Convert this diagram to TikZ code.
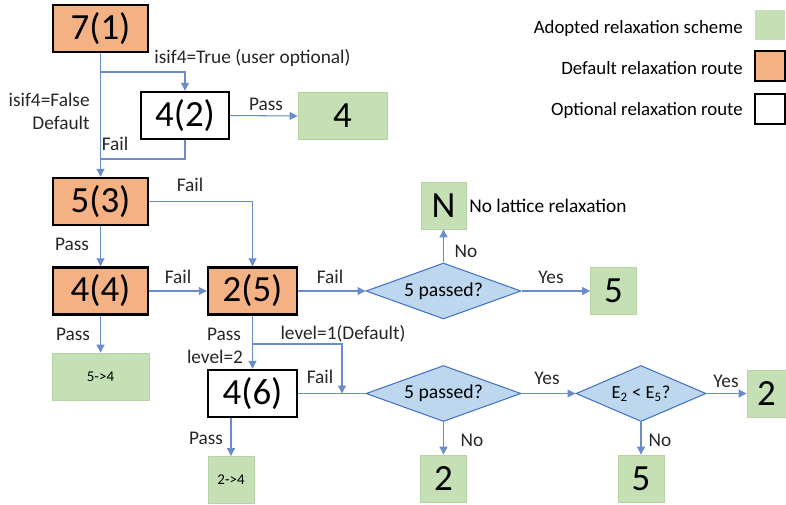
\documentclass[tikz,border=0pt]{standalone}
\usepackage{fontspec}
\setmainfont{Carlito}
\usetikzlibrary{shapes.geometric,arrows.meta,calc}
\definecolor{myorange}{RGB}{244,177,131}
\definecolor{mygreen}{RGB}{197,224,180}
\definecolor{mygreenline}{RGB}{182,212,162}
\definecolor{myblue}{RGB}{189,215,238}
\definecolor{mydarkblue}{RGB}{68,114,196}
\definecolor{myline}{RGB}{105,140,205}

\begin{document}
\begin{tikzpicture}[x=0.02cm,y=-0.02cm,
	every node/.style={font=\fontsize{11}{13}\selectfont},
	routenode/.style={draw=black,line width=1.4pt,minimum width=1.76cm,minimum height=0.94cm,inner sep=0pt,font=\fontsize{21}{24}\selectfont},
	defaultnode/.style={routenode,fill=myorange,minimum width=1.9cm},
	optionnode/.style={routenode,fill=white},
	adoptnode/.style={fill=mygreen,draw=mygreenline,line width=0.5pt,minimum width=0.92cm,minimum height=0.94cm,inner sep=0pt,font=\fontsize{21}{24}\selectfont},
	checknode/.style={diamond,aspect=2.8,draw=mydarkblue,fill=myblue,line width=0.6pt,minimum width=3.1cm,minimum height=1.12cm,inner sep=0pt,font=\fontsize{11.2}{13}\selectfont},
	legendnode/.style={minimum size=0.6cm,inner sep=0pt},
	legendtext/.style={anchor=east,inner sep=0pt,font=\fontsize{10.7}{12}\selectfont},
	edgelabel/.style={inner sep=0pt,text=black!85},
	link/.style={myline,line width=0.6pt},
	arrowlink/.style={link,-{Triangle[length=4.5pt,width=4.5pt]}},
	]
	\useasboundingbox (0,0) rectangle (786,504);
	
	% default route
	\node[defaultnode] (r1) at (100.5,28.5) {7(1)};
	\node[defaultnode] (r3) at (100.5,201.5) {5(3)};
	\node[defaultnode] (r4) at (100.5,291) {4(4)};
	\node[defaultnode,minimum width=1.78cm] (r5) at (252.5,291) {2(5)};
	
	% optional route
	\node[optionnode] (r2) at (185,115.5) {4(2)};
	\node[optionnode,minimum width=1.78cm] (r6) at (252.5,393.5) {4(6)};
	
	% adopted schemes
	\node[adoptnode,minimum width=1.78cm] (g4) at (342.5,116) {4};
	\node[adoptnode,minimum width=1.94cm,font=\fontsize{8.5}{10}\selectfont] (g54) at (100.5,376.5) {5->4};
	\node[adoptnode,font=\fontsize{8.5}{10}\selectfont] (g24) at (231,480) {2->4};
	\node[adoptnode,minimum width=0.9cm] (gN) at (443.5,205.5) {N};
	\node[adoptnode] (g5a) at (613.5,291) {5};
	\node[adoptnode] (g2a) at (443.5,478.5) {2};
	\node[adoptnode] (g5b) at (641,478.5) {5};
	\node[adoptnode,minimum width=0.78cm] (g2b) at (766.5,393.5) {2};
	\node[anchor=west,inner sep=0pt] (nolat) at (469,206) {No lattice relaxation};
	
	% checks
	\node[checknode] (c1) at (443.5,291) {5 passed?};
	\node[checknode] (c2) at (443.5,393.5) {5 passed?};
	\node[checknode,minimum width=2.6cm,font=\fontsize{10.5}{12}\selectfont] (c3) at (641,393.5) {E\textsubscript{2} < E\textsubscript{5}?};
	
	% legend
	\node[legendnode,fill=mygreen] (lg1) at (770,25) {};
	\node[legendnode,fill=myorange,draw=black,line width=1.4pt] (lg2) at (770,66) {};
	\node[legendnode,fill=white,draw=black,line width=1.4pt] (lg3) at (770,109) {};
	\node[legendtext] (lt1) at (743,28) {Adopted relaxation scheme};
	\node[legendtext] (lt2) at (743,68) {Default relaxation route};
	\node[legendtext] (lt3) at (743,110) {Optional relaxation route};
	
	% branch points
	\coordinate (b1) at (100.5,72);
	\coordinate (b2) at (100.5,159);
	\coordinate (b3) at (252.5,344);
	\coordinate (j1) at (342,393.5);
	
	% edges from 7(1) and 4(2)
	\draw[arrowlink] (r1.south) -- (r3.north);
	\draw[arrowlink] (b1) -| (r2.north);
	\draw[link] (r2.south) |- (b2);
	\draw[arrowlink] (r2.east) -- (g4.west);
	
	% edges from 5(3) and 4(4)
	\draw[arrowlink] (r3.east) -| (r5.north);
	\draw[arrowlink] (r3.south) -- (r4.north);
	\draw[arrowlink] (r4.east) -- (r5.west);
	\draw[arrowlink] (r4.south) -- (g54.north);
	
	% edges from 2(5)
	\draw[arrowlink] (r5.east) -- (c1.west);
	\draw[arrowlink] (c1.north) -- (gN.south);
	\draw[arrowlink] (c1.east) -- (g5a.west);
	\draw[arrowlink] (r5.south) -- (r6.north);
	\draw[arrowlink] (b3) -| (j1);
	
	% edges from 4(6)
	\draw[link] (r6.east) -- (c2.west);
	\draw[arrowlink] (g24.north |- r6.south) -- (g24.north);
	\draw[arrowlink] (c2.east) -- (c3.west);
	\draw[arrowlink] (c2.south) -- (g2a.north);
	\draw[arrowlink] (c3.east) -- (g2b.west);
	\draw[arrowlink] (c3.south) -- (g5b.north);
	
	% edge labels
	\node[edgelabel] (t1) at (252.5,58) {isif4=True (user optional)};
	\node[edgelabel,anchor=east,align=right] (t2) at (90,111) {isif4=False\\Default};
	\node[edgelabel] (t3) at (115,144) {Fail};
	\node[edgelabel] (t4) at (266,104) {Pass};
	\node[edgelabel] (t5) at (190,185) {Fail};
	\node[edgelabel] (t6) at (72,244) {Pass};
	\node[edgelabel] (t7) at (178,277) {Fail};
	\node[edgelabel] (t8) at (73,334) {Pass};
	\node[edgelabel] (t9) at (330,277) {Fail};
	\node[edgelabel] (t10) at (466,251) {No};
	\node[edgelabel] (t11) at (551,277) {Yes};
	\node[edgelabel] (t12) at (224,334) {Pass};
	\node[edgelabel] (t13) at (215,357) {level=2};
	\node[edgelabel] (t14) at (343,334) {level=1(Default)};
	\node[edgelabel] (t15) at (320,377) {Fail};
	\node[edgelabel] (t16) at (547,378) {Yes};
	\node[edgelabel] (t17) at (472,440) {No};
	\node[edgelabel] (t18) at (726,381) {Yes};
	\node[edgelabel] (t19) at (660,440) {No};
	\node[edgelabel] (t20) at (206,438) {Pass};
	
\end{tikzpicture}
\end{document}
